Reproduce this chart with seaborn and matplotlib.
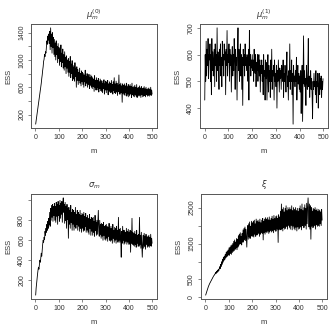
import numpy as np
import pandas as pd
import matplotlib
matplotlib.use("Agg")
import matplotlib.pyplot as plt
import seaborn as sns

# iteration index (every second m)
m = np.arange(1, 501, 2)

# ESS for mu_m^(0)
ess_mu0 = [
    60, 110, 160, 210, 260, 320, 370, 420, 470, 520,
    565, 610, 660, 730, 780, 850, 900, 980, 1010, 1080,
    1050, 1120, 1100, 1200, 1280, 1230, 1350, 1290, 1380, 1240,
    1420, 1150, 1470, 1200, 1380, 1100, 1400, 1180, 1330, 1080,
    1300, 1050, 1250, 1000, 1280, 1080, 1200, 960, 1240, 1020,
    1180, 920, 1150, 980, 1220, 900, 1100, 960, 1160, 880,
    1080, 850, 1120, 900, 1040, 800, 1060, 880, 1000, 820,
    1020, 760, 980, 820, 1050, 740, 940, 800, 990, 700,
    920, 720, 900, 690, 960, 760, 880, 600, 900, 700,
    860, 640, 820, 700, 880, 660, 800, 620, 840, 680,
    820, 640, 800, 600, 780, 680, 850, 620, 760, 660,
    800, 600, 760, 640, 790, 580, 740, 630, 780, 600,
    760, 580, 740, 610, 720, 540, 770, 600, 700, 560,
    740, 560, 700, 600, 730, 530, 680, 580, 720, 550,
    700, 540, 690, 520, 660, 580, 710, 500, 650, 560,
    690, 520, 670, 560, 700, 490, 650, 540, 680, 530,
    660, 520, 700, 540, 640, 500, 680, 550, 740, 520,
    650, 510, 690, 530, 660, 480, 630, 540, 780, 500,
    640, 500, 660, 520, 620, 380, 650, 510, 630, 490,
    650, 480, 620, 520, 660, 470, 610, 500, 640, 460,
    620, 480, 640, 500, 610, 450, 660, 490, 600, 470,
    610, 460, 630, 490, 600, 470, 640, 450, 590, 480,
    600, 470, 620, 480, 590, 450, 610, 490, 580, 460,
    590, 470, 610, 480, 580, 460, 600, 490, 570, 470,
    580, 480, 590, 470, 570, 490, 600, 480, 560, 500,
]

# ESS for mu_m^(1)
ess_mu1 = [
    430, 600, 500, 650, 520, 620, 560, 660, 510, 600,
    580, 640, 500, 600, 450, 660, 540, 610, 520, 580,
    620, 480, 640, 560, 600, 500, 700, 540, 610, 560,
    470, 620, 560, 640, 520, 590, 480, 650, 560, 600,
    520, 640, 580, 610, 450, 620, 560, 690, 520, 600,
    570, 640, 500, 620, 560, 600, 460, 580, 630, 520,
    600, 540, 660, 580, 470, 620, 560, 590, 430, 610,
    700, 540, 620, 500, 580, 640, 520, 600, 470, 590,
    410, 620, 560, 600, 520, 640, 560, 590, 540, 600,
    560, 500, 620, 430, 690, 560, 600, 520, 580, 550,
    600, 540, 580, 500, 620, 560, 530, 600, 480, 570,
    540, 600, 500, 560, 600, 520, 580, 460, 560, 530,
    580, 500, 560, 450, 600, 520, 540, 430, 580, 510,
    570, 430, 540, 600, 460, 560, 500, 540, 440, 580,
    500, 620, 470, 540, 520, 560, 430, 580, 500, 530,
    480, 560, 400, 540, 500, 580, 520, 460, 550, 510,
    540, 470, 560, 520, 500, 580, 440, 530, 500, 560,
    520, 460, 550, 610, 480, 520, 430, 540, 500, 640,
    470, 540, 500, 580, 450, 530, 340, 560, 500, 520,
    480, 540, 500, 590, 430, 520, 560, 490, 530, 470,
    520, 460, 540, 380, 500, 560, 350, 520, 670, 490,
    540, 480, 510, 410, 560, 500, 470, 540, 660, 480,
    520, 440, 500, 540, 470, 510, 450, 360, 500, 470,
    530, 480, 500, 450, 540, 420, 500, 480, 530, 400,
    490, 530, 450, 510, 470, 520, 440, 500, 470, 510,
]

# ESS for sigma_m
ess_sigma = [
    50, 120, 170, 220, 260, 300, 330, 310, 360, 400,
    380, 430, 470, 440, 500, 560, 600, 580, 630, 610,
    690, 650, 720, 680, 760, 700, 790, 720, 820, 760,
    880, 740, 920, 800, 950, 830, 960, 790, 940, 850,
    970, 800, 940, 780, 980, 840, 960, 760, 990, 850,
    950, 790, 1000, 820, 970, 860, 990, 780, 960, 1025,
    880, 960, 770, 980, 800, 940, 720, 960, 810, 920,
    620, 930, 760, 900, 720, 950, 780, 880, 700, 910,
    760, 900, 700, 880, 740, 930, 720, 860, 760, 900,
    700, 880, 740, 860, 690, 900, 720, 850, 680, 870,
    720, 860, 690, 880, 700, 840, 740, 870, 680, 830,
    700, 850, 680, 820, 660, 860, 720, 810, 650, 830,
    690, 820, 650, 830, 680, 790, 640, 850, 700, 780,
    650, 800, 660, 780, 900, 690, 640, 800, 660, 760,
    620, 770, 640, 760, 600, 780, 650, 740, 610, 750,
    600, 760, 620, 740, 590, 730, 640, 770, 600, 720,
    590, 740, 600, 720, 570, 760, 620, 700, 580, 730,
    600, 720, 570, 740, 610, 700, 580, 830, 600, 710,
    580, 720, 600, 430, 690, 570, 740, 600, 700, 560,
    700, 570, 680, 590, 720, 560, 690, 580, 710, 560,
    680, 560, 700, 480, 690, 570, 820, 560, 680, 550,
    670, 540, 690, 560, 660, 530, 700, 570, 650, 540,
    660, 540, 830, 560, 650, 520, 680, 550, 430, 570,
    650, 520, 670, 540, 640, 510, 660, 560, 630, 530,
    640, 540, 650, 530, 630, 550, 660, 540, 620, 570,
]

# ESS for xi
ess_xi = [
    65, 110, 150, 190, 230, 270, 310, 340, 370, 400,
    420, 450, 470, 500, 520, 550, 570, 600, 610, 640,
    650, 690, 660, 720, 690, 750, 710, 780, 740, 800,
    860, 800, 920, 860, 990, 920, 1060, 980, 1120, 1030,
    1150, 1060, 1200, 1100, 1260, 1130, 1290, 1150, 1320, 1180,
    1380, 1170, 1400, 1220, 1440, 1200, 1460, 1250, 1500, 1280,
    1560, 1300, 1600, 1340, 1540, 1380, 1640, 1330, 1620, 1400,
    1720, 1450, 1760, 1480, 1800, 1500, 1700, 1460, 1780, 1540,
    1880, 1540, 1920, 1600, 1960, 1580, 1900, 1640, 1400, 1880,
    2000, 1620, 2050, 1680, 2100, 1640, 1980, 1720, 2120, 1700,
    2080, 1700, 2120, 1680, 2150, 1760, 2050, 1700, 2180, 1740,
    2120, 1740, 2150, 1780, 2100, 1700, 2180, 1760, 2080, 1800,
    2150, 1780, 2200, 1600, 2120, 1800, 2180, 1760, 2220, 1820,
    2180, 1800, 2220, 1840, 2160, 1780, 2240, 1820, 2150, 1860,
    2200, 1820, 2260, 1850, 2180, 1800, 2280, 1880, 2200, 1840,
    2250, 1850, 2270, 1900, 2200, 1530, 2300, 1880, 2240, 1900,
    2400, 1880, 2600, 1920, 2450, 1850, 2500, 1950, 2380, 1900,
    2480, 1920, 2550, 1980, 2420, 1900, 2500, 2000, 2450, 1950,
    2500, 1900, 2450, 2000, 2550, 1880, 2420, 1980, 2500, 1920,
    2450, 1880, 2500, 1950, 2420, 1850, 2480, 1960, 2400, 1900,
    2480, 1920, 2550, 1960, 2450, 1880, 2600, 2000, 2420, 1940,
    2500, 1950, 2580, 2000, 2480, 1900, 2620, 2050, 2500, 2770,
    2450, 1960, 2600, 1900, 2550, 1620, 2500, 1980, 2400, 1940,
    2480, 1950, 2450, 2000, 2500, 1900, 2420, 2020, 2460, 1980,
    2400, 2000, 2450, 1980, 2420, 2050, 2380, 2000, 2450, 2150,
]

titles = [r"$\mu_m^{(0)}$", r"$\mu_m^{(1)}$", r"$\sigma_m$", r"$\xi$"]
series = [ess_mu0, ess_mu1, ess_sigma, ess_xi]
y_ticks = [
    [200, 400, 600, 800, 1000, 1200, 1400],
    [400, 500, 600, 700],
    [200, 400, 600, 800, 1000],
    [0, 500, 1000, 1500, 2000, 2500],
]
y_labels = [
    ["200", "", "600", "", "1000", "", "1400"],
    ["400", "500", "600", "700"],
    ["200", "400", "600", "800", ""],
    ["0", "500", "", "1500", "", "2500"],
]
x_ticks = [0, 100, 200, 300, 400, 500]

sns.set_style("ticks")
plt.rcParams["font.family"] = ["Liberation Sans", "DejaVu Sans"]
plt.rcParams["mathtext.fontset"] = "dejavusans"

fig = plt.figure(figsize=(3.32, 3.28), dpi=100)
W, H = 332, 328
boxes = [(31, 24, 157, 128), (200, 24, 328, 128),
         (31, 194, 157, 299), (201, 194, 327, 299)]

axc = "#555555"
for i in range(4):
    l, t, r, b = boxes[i]
    ax = fig.add_axes([l / W, 1 - b / H, (r - l) / W, (b - t) / H])
    df = pd.DataFrame({"m": m, "ESS": series[i]})
    sns.lineplot(data=df, x="m", y="ESS", ax=ax, color="black",
                 linewidth=0.6, estimator=None)
    y = np.array(series[i])
    pad = 0.04 * (y.max() - y.min())
    ax.set_ylim(y.min() - pad, y.max() + pad)
    ax.set_xlim(1 - 0.04 * 499, 500 + 0.04 * 499)
    ax.set_xticks(x_ticks)
    ax.set_xticklabels([str(v) for v in x_ticks], fontsize=5, color="#333333")
    ax.set_yticks(y_ticks[i])
    ax.set_yticklabels(y_labels[i], fontsize=5, color="#333333",
                       rotation=90, va="center")
    ax.tick_params(length=2.2, width=0.5, color=axc, pad=2)
    for s in ax.spines.values():
        s.set_color(axc)
        s.set_linewidth(0.7)
    ax.set_xlabel("m", fontsize=5.5, color="#333333", labelpad=5)
    ax.set_ylabel("ESS", fontsize=5.5, color="#333333", labelpad=4)
    ax.set_title(titles[i], fontsize=6, color="#333333", pad=5)

fig.savefig("out.png", dpi=100)
